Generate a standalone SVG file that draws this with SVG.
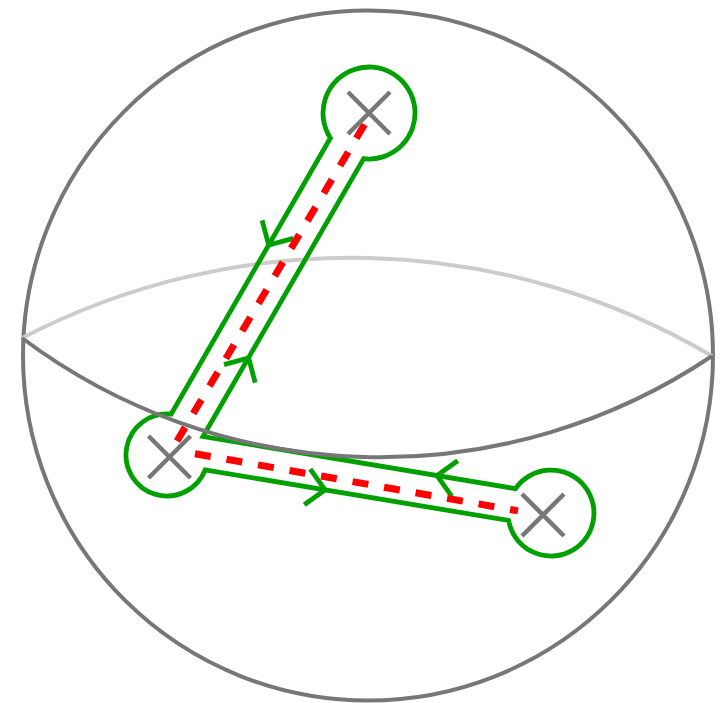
<svg xmlns="http://www.w3.org/2000/svg" xmlns:xlink="http://www.w3.org/1999/xlink" width="722" height="703" viewBox="0 0 722 703">
  <style>
    .sphere { fill: none; stroke: #777777; stroke-width: 4; }
    .back { fill: none; stroke: #cccccc; stroke-width: 4; }
    .front { fill: none; stroke: #777777; stroke-width: 4; }
    .contour { fill: none; stroke: #00a000; stroke-width: 4.8; stroke-linejoin: miter; }
    .chev { fill: none; stroke: #00a000; stroke-width: 4.8; stroke-linejoin: miter; }
    .cut { fill: none; stroke: #ff0000; stroke-width: 7; stroke-dasharray: 16 16; }
    .cross { fill: none; stroke: #777777; stroke-width: 4.5; }
  </style>
  <defs>
    <path id="chevron" d="M-18,-18 L0,0 L-18,18"/>
    <path id="xmark" d="M-21,-21 L21,21 M21,-21 L-21,21"/>
  </defs>

  <g id="sphere">
    <circle class="sphere" cx="368" cy="355.5" r="345"/>
    <path class="back" d="M22,338 A713,713 0 0 1 712,356"/>
  </g>

  <g id="connectors">
    <path id="contour" class="contour" d="M330.4,138 L171.1,414.2 A41,41 0 1 0 205.2,469.9 L508.6,520.5 A43,43 0 1 0 515.5,488.7 L203,436.5 L363.6,158.7 A46,46 0 1 0 330.4,138 Z"/>
    <use href="#chevron" class="chev" transform="translate(268.7,245) rotate(120)"/>
    <use href="#chevron" class="chev" transform="translate(248.6,358) rotate(-60)"/>
    <use href="#chevron" class="chev" transform="translate(325,489.9) rotate(9.5)"/>
    <use href="#chevron" class="chev" transform="translate(437,475.6) rotate(189.5)"/>
    <line class="cut" x1="364.5" y1="124.5" x2="177" y2="441"/>
    <line class="cut" x1="195" y1="453.7" x2="518" y2="510.9"/>
  </g>

  <g id="equator-front">
    <path class="front" d="M22,338 A596,596 0 0 0 712,356"/>
  </g>

  <g id="node-top">
    <use href="#xmark" class="cross" transform="translate(369,113)"/>
  </g>
  <g id="node-left">
    <use href="#xmark" class="cross" transform="translate(169.5,457)"/>
  </g>
  <g id="node-right">
    <use href="#xmark" class="cross" transform="translate(543,515)"/>
  </g>
</svg>
